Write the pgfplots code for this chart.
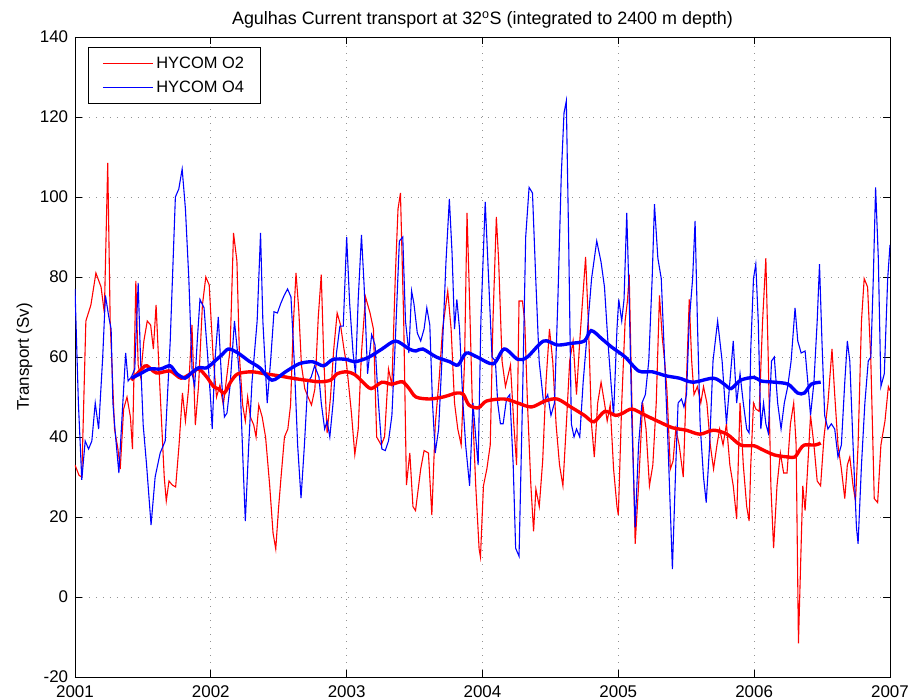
\documentclass[border=0pt]{standalone}
\usepackage{fontspec}
\setmainfont{Liberation Sans}
\usepackage{pgfplots}
\usepackage{pgfplotstable}
\pgfplotsset{compat=1.18}

\pgfplotstableread{
x y
2001.000 33
2001.030 30.4
2001.050 30
2001.080 69
2001.117 73
2001.154 81
2001.192 77.5
2001.216 71
2001.241 108.5
2001.259 69
2001.291 42
2001.316 37
2001.333 32
2001.358 47
2001.383 50
2001.408 45
2001.423 37
2001.448 79
2001.465 58
2001.483 55
2001.507 64
2001.532 69
2001.557 68
2001.577 62
2001.597 73
2001.617 58
2001.637 44
2001.657 30
2001.672 24
2001.692 29
2001.716 28
2001.741 27.5
2001.766 38
2001.791 51
2001.813 44
2001.836 52
2001.861 68
2001.886 43
2001.910 53
2001.938 73
2001.963 80
2001.988 78
2002.017 60
2002.042 50
2002.067 53
2002.092 48
2002.117 55
2002.142 62
2002.167 91
2002.192 84
2002.211 60
2002.234 48
2002.254 44
2002.271 50
2002.291 45
2002.316 43
2002.333 40
2002.353 48
2002.378 45
2002.403 40
2002.433 28
2002.458 16
2002.478 12
2002.498 22
2002.517 30
2002.542 40
2002.567 42
2002.587 48
2002.607 68
2002.627 81
2002.647 72
2002.667 58
2002.692 52
2002.716 50
2002.741 48
2002.766 52
2002.791 70
2002.813 80.6
2002.831 60
2002.856 41
2002.881 50
2002.905 62
2002.930 71
2002.955 68
2002.980 62
2003.000 58
2003.035 46
2003.060 35.6
2003.085 42
2003.109 61
2003.139 75
2003.172 71
2003.197 67
2003.221 40
2003.254 38
2003.279 40
2003.308 57
2003.333 53
2003.358 80
2003.378 97
2003.396 101
2003.420 69
2003.440 28
2003.465 36
2003.488 22.6
2003.507 21.6
2003.545 32
2003.570 36.6
2003.602 36
2003.627 20.5
2003.652 43
2003.682 55
2003.706 67
2003.744 76.5
2003.769 67
2003.794 48.5
2003.818 42
2003.843 38
2003.868 59
2003.886 96
2003.900 80
2003.925 48.5
2003.950 28
2003.975 12
2003.985 10
2004.007 27.8
2004.032 32
2004.057 38
2004.077 69
2004.102 95
2004.119 84
2004.144 59
2004.169 52.6
2004.206 58
2004.231 43
2004.251 33
2004.269 74
2004.294 74
2004.311 69
2004.331 48.5
2004.356 28
2004.376 16.4
2004.393 27
2004.418 22.6
2004.443 34
2004.468 54
2004.493 67
2004.517 59
2004.542 43
2004.567 33
2004.592 27.8
2004.617 43
2004.642 59
2004.667 64
2004.692 50.6
2004.716 64
2004.759 85
2004.779 69
2004.803 43
2004.823 35
2004.848 48.5
2004.873 53.7
2004.898 48.5
2004.918 44
2004.940 48
2004.965 32
2004.990 22.6
2005.000 20.5
2005.025 48.5
2005.050 69
2005.067 74
2005.080 80.6
2005.100 48.5
2005.124 13.3
2005.149 27.8
2005.179 48.5
2005.204 42
2005.229 27.8
2005.254 33
2005.279 48.5
2005.303 75.4
2005.323 65
2005.341 59
2005.358 51.6
2005.383 32
2005.403 34
2005.423 42
2005.448 38
2005.478 30
2005.498 50.6
2005.522 74.4
2005.540 59
2005.557 50.6
2005.582 52.6
2005.607 48.5
2005.627 52.6
2005.652 48.5
2005.677 38
2005.701 32
2005.726 38
2005.746 42
2005.771 38
2005.796 43.3
2005.821 33
2005.846 27.8
2005.871 19.5
2005.896 48.5
2005.920 33
2005.945 22.6
2005.963 19
2005.975 33
2005.995 48.5
2006.012 47
2006.037 46.4
2006.062 69
2006.086 84.7
2006.104 59
2006.123 27.8
2006.143 12.2
2006.168 27.8
2006.193 36
2006.217 31
2006.242 31
2006.267 43.3
2006.291 48.5
2006.309 38
2006.326 -11.6
2006.341 7
2006.358 27.8
2006.375 21.6
2006.390 30
2006.415 45.4
2006.440 38
2006.464 29
2006.489 27.8
2006.514 40
2006.543 48.5
2006.573 62
2006.593 50.6
2006.617 38
2006.642 32
2006.667 24.6
2006.686 33
2006.704 35
2006.728 27.8
2006.746 24
2006.765 38
2006.790 69
2006.810 79.6
2006.835 77.5
2006.859 59
2006.884 24.6
2006.909 23.6
2006.933 38
2006.963 44
2006.988 52.6
2007.000 51.6
}\redthin

\pgfplotstableread{
x y
2001.000 77
2001.025 48.5
2001.050 29.3
2001.075 39
2001.100 37
2001.124 39
2001.149 48.5
2001.174 42
2001.204 60
2001.224 75.4
2001.249 70
2001.266 67
2001.279 48.5
2001.299 40
2001.323 31
2001.348 46
2001.373 61
2001.391 54
2001.415 55
2001.440 57
2001.465 78.5
2001.483 59
2001.502 43
2001.527 33
2001.560 18
2001.590 30
2001.627 36
2001.664 39
2001.701 64
2001.739 100
2001.764 102
2001.789 107
2001.813 97
2001.838 79.6
2001.863 55.8
2001.881 52.6
2001.900 64
2001.920 74.4
2001.950 72.3
2001.975 61
2002.000 48.5
2002.010 42
2002.030 59
2002.055 70
2002.080 53.7
2002.100 45
2002.119 46
2002.142 53
2002.174 69
2002.194 62
2002.216 53
2002.241 30
2002.254 19
2002.279 38
2002.303 53.7
2002.341 69
2002.366 91
2002.383 69
2002.415 48.5
2002.440 59
2002.465 71.3
2002.490 71
2002.515 73.4
2002.540 75.4
2002.565 77
2002.590 75
2002.614 59
2002.639 38
2002.664 24.7
2002.689 38
2002.714 53.7
2002.739 55
2002.764 57.8
2002.796 55
2002.813 48.5
2002.838 42
2002.856 44
2002.876 40
2002.900 48.5
2002.925 61
2002.950 67.7
2002.975 67.7
2003.000 90
2003.022 73.4
2003.047 61
2003.065 55.8
2003.085 74.4
2003.109 90.5
2003.129 77.5
2003.154 55.8
2003.184 65.6
2003.209 63
2003.234 48.5
2003.259 37
2003.284 36.6
2003.308 39
2003.333 45.4
2003.358 64
2003.388 89
2003.413 90
2003.433 69
2003.458 61
2003.478 76.5
2003.495 73.4
2003.520 66
2003.545 64
2003.570 67
2003.590 72.3
2003.612 68
2003.632 48.5
2003.652 36
2003.677 42
2003.701 59
2003.731 83.7
2003.756 99.5
2003.776 85.9
2003.794 67
2003.811 74.4
2003.831 67
2003.856 48.5
2003.876 38
2003.905 27.8
2003.930 48.5
2003.950 40
2003.968 33
2003.988 69
2004.020 98.8
2004.045 79.6
2004.070 60
2004.095 59
2004.112 48.5
2004.132 43.3
2004.152 43.3
2004.177 49.5
2004.201 50.6
2004.226 33
2004.244 12.2
2004.269 10.2
2004.294 48.5
2004.318 90
2004.343 102.4
2004.368 101
2004.392 79.6
2004.417 59
2004.450 48.5
2004.480 50.6
2004.504 45.4
2004.530 48.5
2004.555 74.4
2004.580 105.5
2004.600 121
2004.617 124
2004.634 90
2004.654 43.3
2004.674 40
2004.692 42
2004.716 40
2004.741 53.7
2004.766 64
2004.803 79.6
2004.841 89
2004.873 83.7
2004.898 77.5
2004.923 64
2004.948 52.6
2004.965 45.4
2004.990 67
2005.003 74.4
2005.025 69
2005.042 74.4
2005.062 96
2005.080 74.4
2005.100 43.3
2005.124 17.4
2005.149 38
2005.174 48.5
2005.199 50.6
2005.224 59
2005.249 79.6
2005.266 98.2
2005.291 84.7
2005.316 79.6
2005.341 59
2005.366 38
2005.398 7
2005.423 33
2005.440 48.5
2005.465 49.5
2005.483 47.5
2005.502 50.6
2005.522 69
2005.547 79.6
2005.565 94
2005.582 69
2005.602 43.3
2005.627 30
2005.647 23.6
2005.672 38
2005.697 59
2005.731 69
2005.764 59
2005.796 43.3
2005.821 53.7
2005.846 64
2005.871 48.5
2005.896 55.8
2005.920 48.5
2005.945 42
2005.963 41
2005.975 62
2005.995 79.6
2006.012 83.2
2006.030 69
2006.049 42
2006.069 48.5
2006.086 43.3
2006.104 41
2006.128 59
2006.148 60
2006.173 48.5
2006.198 42
2006.222 48.5
2006.247 52.6
2006.272 59
2006.301 72.3
2006.321 64
2006.346 61
2006.375 61.5
2006.395 53.7
2006.415 45.4
2006.440 53.7
2006.464 69
2006.481 83.2
2006.499 64
2006.519 45.4
2006.543 42
2006.568 43.3
2006.593 42
2006.617 35
2006.642 38
2006.667 53.7
2006.686 64
2006.704 59
2006.728 38
2006.753 17.4
2006.765 13.3
2006.790 33
2006.815 48.5
2006.840 59
2006.859 60
2006.877 79.6
2006.894 102.4
2006.914 84.7
2006.933 52.6
2006.958 55.8
2006.983 79.6
2007.000 88
}\bluethin

\pgfplotstableread{
x y
2001.415 54.2
2001.45 55.5
2001.50 57.3
2001.53 57.8
2001.60 56
2001.70 56.5
2001.78 54.7
2001.85 55.8
2001.91 57
2001.97 55
2002.02 52.6
2002.06 52
2002.10 51
2002.15 54
2002.20 55.8
2002.30 56.3
2002.40 55.8
2002.50 55.3
2002.60 54.7
2002.70 54.2
2002.80 53.8
2002.88 54.2
2002.93 55.8
2003.00 56.3
2003.06 55.6
2003.12 53.7
2003.18 52.1
2003.26 53.7
2003.33 53.2
2003.41 53.8
2003.46 52.1
2003.51 50
2003.61 49.5
2003.71 50
2003.81 51
2003.86 50.6
2003.90 48
2003.97 47.3
2004.03 49
2004.16 49.5
2004.26 48.5
2004.36 47.5
2004.46 49
2004.55 49.5
2004.65 47.5
2004.75 45.4
2004.82 43.8
2004.90 46.4
2004.98 45.4
2005.03 45.9
2005.10 47
2005.20 45.4
2005.30 43.8
2005.40 42.3
2005.50 41.7
2005.60 40.7
2005.70 41.7
2005.80 40.7
2005.90 38
2006.00 37.8
2006.05 37
2006.15 35.5
2006.25 35
2006.30 35
2006.34 37
2006.37 38
2006.45 38
2006.49 38.5
}\redsmooth

\pgfplotstableread{
x y
2001.415 54.7
2001.48 55.8
2001.55 57
2001.63 57
2001.70 57.8
2001.75 55.8
2001.81 54.7
2001.85 55.8
2001.91 57.3
2001.97 57.3
2002.03 59
2002.08 60.5
2002.13 62
2002.20 61
2002.28 59
2002.36 57.3
2002.45 54.2
2002.55 56.3
2002.65 58.3
2002.75 58.8
2002.83 57.8
2002.90 59.4
2003.00 59.4
2003.06 58.8
2003.16 59.9
2003.26 62
2003.36 64
2003.46 62
2003.51 61.5
2003.56 62
2003.66 60
2003.76 58.8
2003.82 58
2003.88 61
2003.96 60
2004.08 58.3
2004.16 62
2004.26 59.4
2004.33 60
2004.45 64
2004.55 63
2004.65 63.4
2004.75 64
2004.80 66.6
2004.88 64.5
2004.95 62.5
2005.05 60
2005.15 56.5
2005.25 56.3
2005.35 55.3
2005.45 54.7
2005.55 53.7
2005.70 54.7
2005.78 53.2
2005.83 52.1
2005.90 54.2
2006.00 54.9
2006.05 54
2006.15 53.7
2006.25 53.2
2006.32 51
2006.37 51
2006.42 53.2
2006.49 53.7
}\bluesmooth

\newcommand{\lgfont}{\fontsize{16.5}{20}\selectfont}

\begin{document}
\fontsize{17}{20}\selectfont
\begin{tikzpicture}
\begin{axis}[
  scale only axis,
  width=815bp, height=640bp,
  xmin=2001, xmax=2007,
  ymin=-20, ymax=140,
  xtick={2001,2002,...,2007},
  ytick={-20,0,...,140},
  /pgf/number format/1000 sep={},
  /pgf/number format/assume math mode=true,
  tick align=inside,
  major tick length=7bp,
  xmajorgrids, ymajorgrids,
  grid style={dash pattern=on 1.2bp off 5.8bp, gray!85, line width=0.7bp},
  axis line style={line width=0.7pt},
  tick style={line width=0.7pt, black},
  ticklabel style={font=\fontsize{17}{20}\selectfont},
  xticklabel style={yshift=-3bp},
  yticklabel style={xshift=-1bp},
  title={Agulhas Current transport at 32\textsuperscript{o}S (integrated to 2400 m depth)},
  title style={font=\fontsize{18}{21}\selectfont, yshift=-3bp},
  ylabel={Transport (Sv)},
  ylabel style={font=\fontsize{17}{20}\selectfont, yshift=-4bp},
  legend style={at={(0.016,0.984)}, anchor=north west, draw=black, line width=0.7pt,
    inner xsep=14bp, inner ysep=7bp, row sep=6bp, column sep=1bp},
  legend cell align=left,
  legend image code/.code={\draw[#1, line width=1pt] (0bp,0bp) -- (50bp,0bp);},
]
\addplot[red, line width=1.1pt] table[x=x,y=y] {\redthin};
\addlegendentry{\lgfont HYCOM O2\hspace{25bp}}
\addplot[blue, line width=1.1pt] table[x=x,y=y] {\bluethin};
\addlegendentry{\lgfont HYCOM O4\hspace{25bp}}
\addplot[red, line width=3.4pt, forget plot, smooth] table[x=x,y=y] {\redsmooth};
\addplot[blue, line width=3.4pt, forget plot, smooth] table[x=x,y=y] {\bluesmooth};
\end{axis}
\pgfresetboundingbox
\useasboundingbox ([shift={(-75bp,-23bp)}]current axis.south west) rectangle ([shift={(18bp,37bp)}]current axis.north east);
\end{tikzpicture}
\end{document}
